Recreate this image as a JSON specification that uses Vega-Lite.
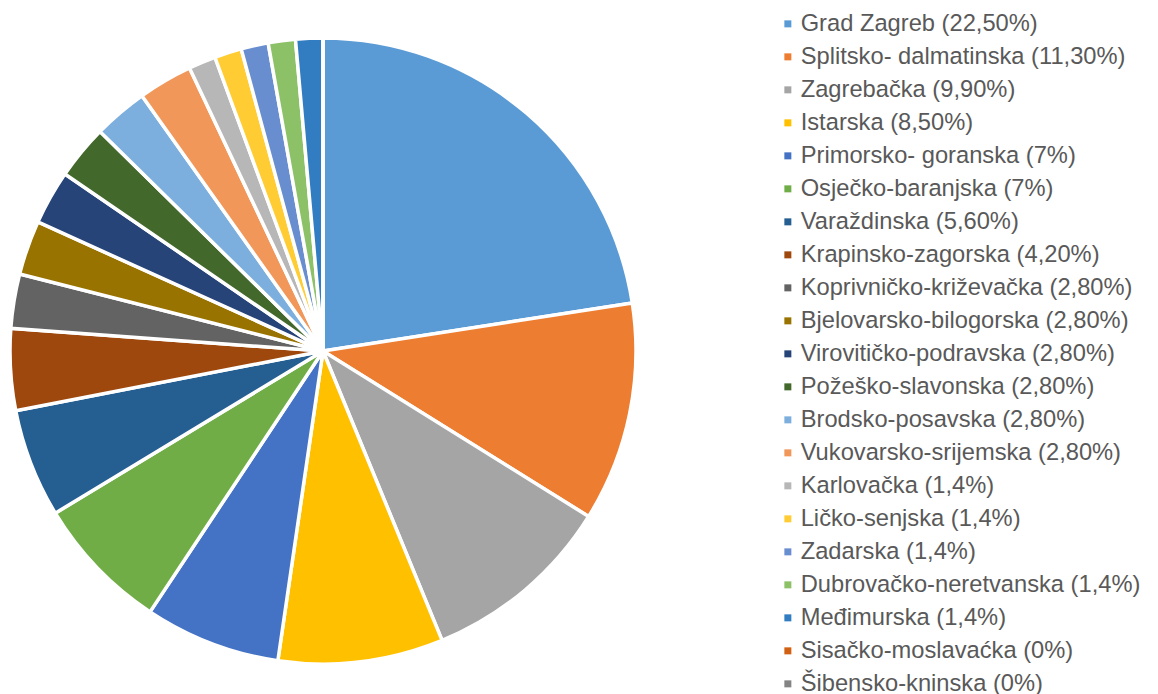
{
  "$schema": "https://vega.github.io/schema/vega-lite/v6.json",
  "width": 626,
  "height": 694,
  "autosize": {"type": "none"},
  "padding": {"left": 10, "top": 4, "right": 522, "bottom": 0},
  "background": "white",
  "config": {"view": {"stroke": null}, "font": "Liberation Sans"},
  "data": {
    "values": [
      {"i": 1, "label": "Grad Zagreb (22,50%)", "pct": 22.5},
      {"i": 2, "label": "Splitsko- dalmatinska (11,30%)", "pct": 11.3},
      {"i": 3, "label": "Zagrebačka (9,90%)", "pct": 9.9},
      {"i": 4, "label": "Istarska (8,50%)", "pct": 8.5},
      {"i": 5, "label": "Primorsko- goranska (7%)", "pct": 7},
      {"i": 6, "label": "Osječko-baranjska (7%)", "pct": 7},
      {"i": 7, "label": "Varaždinska (5,60%)", "pct": 5.6},
      {"i": 8, "label": "Krapinsko-zagorska (4,20%)", "pct": 4.2},
      {"i": 9, "label": "Koprivničko-križevačka (2,80%)", "pct": 2.8},
      {"i": 10, "label": "Bjelovarsko-bilogorska (2,80%)", "pct": 2.8},
      {"i": 11, "label": "Virovitičko-podravska (2,80%)", "pct": 2.8},
      {"i": 12, "label": "Požeško-slavonska (2,80%)", "pct": 2.8},
      {"i": 13, "label": "Brodsko-posavska (2,80%)", "pct": 2.8},
      {"i": 14, "label": "Vukovarsko-srijemska (2,80%)", "pct": 2.8},
      {"i": 15, "label": "Karlovačka (1,4%)", "pct": 1.4},
      {"i": 16, "label": "Ličko-senjska (1,4%)", "pct": 1.4},
      {"i": 17, "label": "Zadarska (1,4%)", "pct": 1.4},
      {"i": 18, "label": "Dubrovačko-neretvanska (1,4%)", "pct": 1.4},
      {"i": 19, "label": "Međimurska (1,4%)", "pct": 1.4},
      {"i": 20, "label": "Sisačko-moslavaćka (0%)", "pct": 0},
      {"i": 21, "label": "Šibensko-kninska (0%)", "pct": 0}
    ]
  },
  "mark": {"type": "arc", "stroke": "white", "strokeWidth": 3.5},
  "encoding": {
    "theta": {"field": "pct", "type": "quantitative", "stack": true},
    "order": {"field": "i", "type": "quantitative"},
    "color": {
      "field": "label",
      "type": "nominal",
      "scale": {
        "domain": [
          "Grad Zagreb (22,50%)", "Splitsko- dalmatinska (11,30%)", "Zagrebačka (9,90%)", "Istarska (8,50%)",
          "Primorsko- goranska (7%)", "Osječko-baranjska (7%)", "Varaždinska (5,60%)", "Krapinsko-zagorska (4,20%)",
          "Koprivničko-križevačka (2,80%)", "Bjelovarsko-bilogorska (2,80%)", "Virovitičko-podravska (2,80%)",
          "Požeško-slavonska (2,80%)", "Brodsko-posavska (2,80%)", "Vukovarsko-srijemska (2,80%)",
          "Karlovačka (1,4%)", "Ličko-senjska (1,4%)", "Zadarska (1,4%)", "Dubrovačko-neretvanska (1,4%)",
          "Međimurska (1,4%)", "Sisačko-moslavaćka (0%)", "Šibensko-kninska (0%)"
        ],
        "range": [
          "#5B9BD5", "#ED7D31", "#A5A5A5", "#FFC000", "#4472C4", "#70AD47", "#255E91", "#9E480E",
          "#636363", "#997300", "#264478", "#43682B", "#7CAFDD", "#F1975A", "#B7B7B7", "#FFCD33",
          "#698ED0", "#8CC168", "#327DC2", "#D26012", "#848484"
        ]
      },
      "legend": {
        "title": null,
        "orient": "none",
        "legendX": 766,
        "legendY": 8,
        "padding": 0,
        "symbolType": "square",
        "symbolSize": 49,
        "symbolStrokeWidth": 0,
        "labelFontSize": 23.7,
        "labelFont": "Liberation Sans",
        "labelColor": "#595959",
        "labelOffset": 1,
        "labelLimit": 400,
        "rowPadding": 8
      }
    }
  }
}
